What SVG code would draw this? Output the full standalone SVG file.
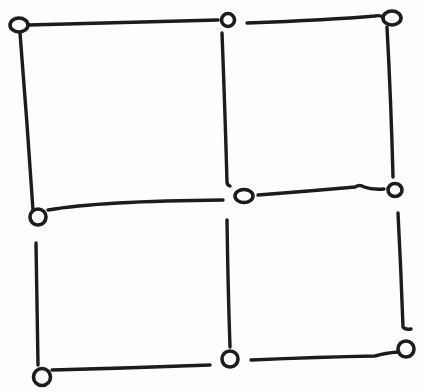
<svg xmlns="http://www.w3.org/2000/svg" width="425" height="391" viewBox="0 0 425 391">
<style>
.ln{fill:none;stroke:#1c1c1c;stroke-width:3.4;stroke-linecap:round;stroke-linejoin:round}
.nd{fill:none;stroke:#1c1c1c;stroke-width:3.6}
</style>
<rect width="425" height="391" fill="#fdfdfd"/>
<g id="connectors">
<path class="ln" d="M28,25 Q100,23 218,20"/>
<path class="ln" d="M247,23 Q330,20 375,16 Q380,15 383,17"/>
<path class="ln" d="M20,33 Q27,120 33,210"/>
<path class="ln" d="M222,33 Q225,110 227,182 Q227,185 230,186"/>
<path class="ln" d="M387,27 Q391,100 393,177"/>
<path class="ln" d="M48,210 Q100,201 223,200"/>
<path class="ln" d="M258,195 Q310,191 355,187 Q360,184 364,187 Q372,190 384,189"/>
<path class="ln" d="M36,243 Q37,300 38,365"/>
<path class="ln" d="M227,220 Q228,290 230,347"/>
<path class="ln" d="M398,213 Q401,270 403,327 Q405,330 411,329"/>
<path class="ln" d="M52,370 Q130,368 210,365"/>
<path class="ln" d="M251,360 Q320,357 375,356 Q385,353 398,352"/>
</g>
<g id="n1"><ellipse class="nd" cx="19" cy="25" rx="9" ry="7"/></g>
<g id="n2"><circle class="nd" cx="228" cy="20" r="6.5"/></g>
<g id="n3"><ellipse class="nd" cx="392" cy="18" rx="9" ry="7"/></g>
<g id="n4"><circle class="nd" cx="38" cy="217" r="8"/></g>
<g id="n5"><ellipse class="nd" cx="244" cy="196" rx="9" ry="6.5"/></g>
<g id="n6"><ellipse class="nd" cx="395" cy="190" rx="7" ry="6.5"/></g>
<g id="n7"><circle class="nd" cx="42" cy="377" r="8.5"/></g>
<g id="n8"><circle class="nd" cx="230" cy="359" r="8"/></g>
<g id="n9"><circle class="nd" cx="406" cy="349" r="8"/></g>
</svg>
